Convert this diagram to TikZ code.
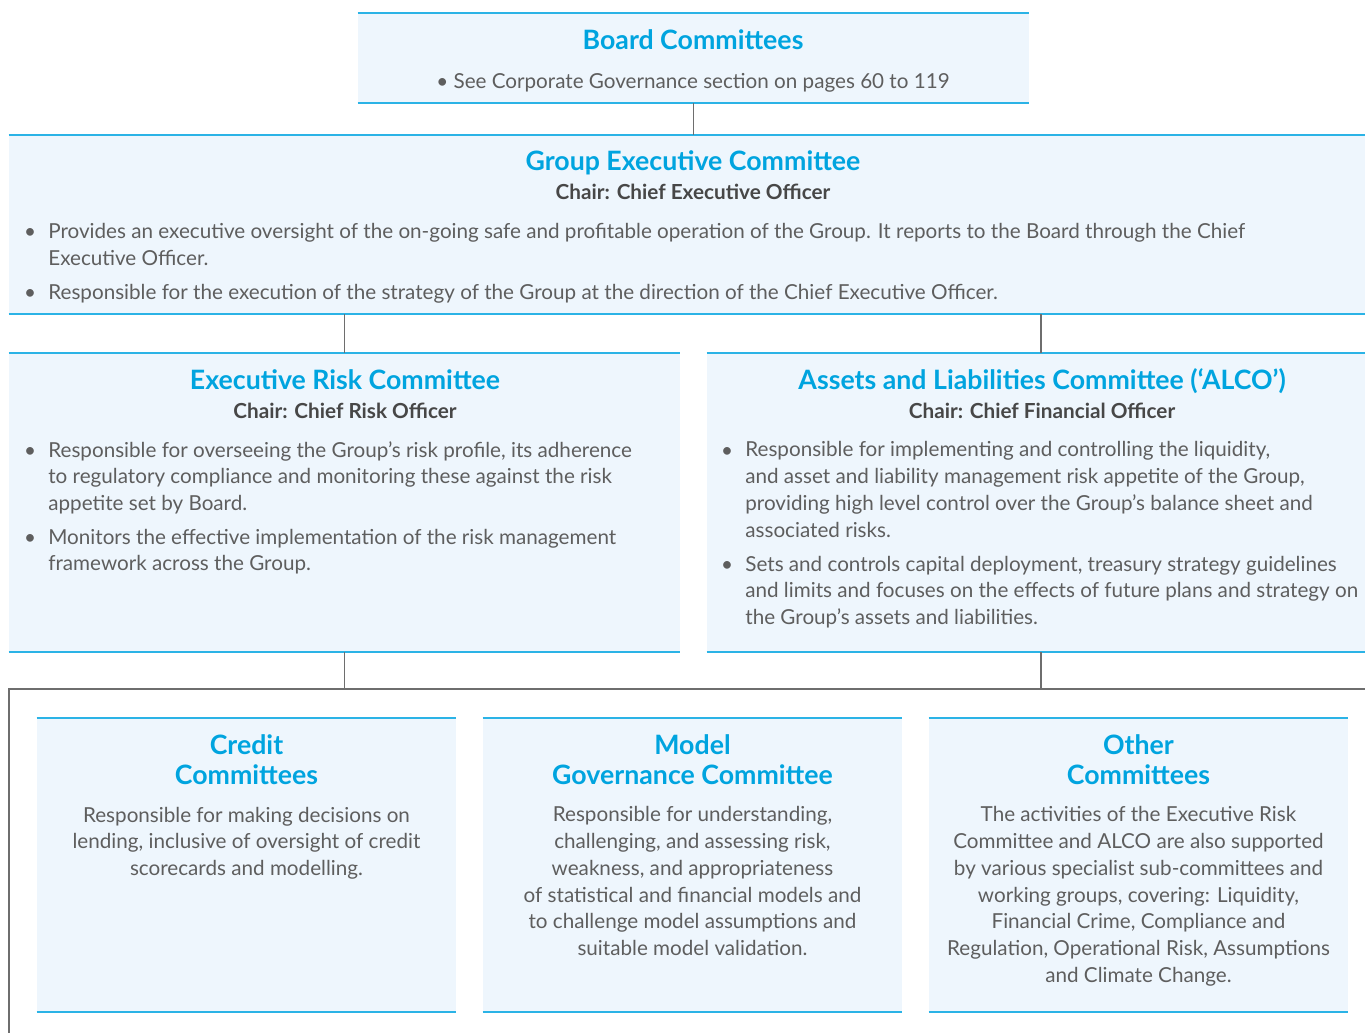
\documentclass[tikz,border=0pt]{standalone}
\usepackage{fontspec}
\setmainfont{Lato}
\usetikzlibrary{fit}

\definecolor{headblue}{HTML}{00A4DF}
\definecolor{rulecyan}{HTML}{2BB3E6}
\definecolor{panelfill}{HTML}{EEF6FD}
\definecolor{bodygrey}{HTML}{5E5E5E}
\definecolor{chairgrey}{HTML}{474747}
\definecolor{linkgrey}{HTML}{6E6E6E}

\tikzset{
    panel/.style={fill=panelfill, draw=none, inner sep=0pt},
    rule/.style={draw=rulecyan, line width=1.1pt},
    link/.style={draw=linkgrey, line width=1pt},
    heading/.style={font=\bfseries\fontsize{15.2}{16.6}\selectfont, text=headblue, anchor=base, align=center, inner sep=0pt},
    chair/.style={font=\bfseries\fontsize{11.8}{13}\selectfont, text=chairgrey, anchor=base, inner sep=0pt},
    body/.style={font=\fontsize{11.75}{15.2}\selectfont, text=bodygrey, anchor=base west, align=left, inner sep=0pt},
    blurb/.style={body, anchor=base, align=center},
    dot/.style={font=\fontsize{11.75}{15.2}\selectfont, text=bodygrey, anchor=base, inner sep=0pt}
}

\begin{document}
\begin{tikzpicture}[x=0.02cm,y=-0.02cm]
        \useasboundingbox (0,0) rectangle (1365,1032);

        % panels
        \node[panel, fit={(358,13) (1029,103)}] (board) {};
        \node[panel, fit={(9,135) (1375,314)}] (gec) {};
        \node[panel, fit={(9,353) (680,652)}] (erc) {};
        \node[panel, fit={(707,353) (1375,652)}] (alco) {};
        \node[panel, fit={(37,718) (456,1012)}] (credit) {};
        \node[panel, fit={(483,718) (902,1012)}] (model) {};
        \node[panel, fit={(929,718) (1348,1012)}] (other) {};

        % top and bottom rules
        \foreach \n in {board,gec,erc,alco,credit,model,other}
            \draw[rule] (\n.north west) -- (\n.north east) (\n.south west) -- (\n.south east);

        % connectors
        \coordinate (frameL) at (9,689);
        \coordinate (frameR) at (1375,689);
        \coordinate (frameB) at (9,1040);
        \draw[link] (board.south) -- (board.south |- gec.north);
        \draw[link] (gec.south -| erc.north) -- (erc.north);
        \draw[link] (gec.south -| alco.north) -- (alco.north);
        \draw[link] (erc.south) -- (erc.south |- frameL);
        \draw[link] (alco.south) -- (alco.south |- frameL);
        \draw[link] (frameR) -- (frameL) -- (frameB);

        % board committees (multi-line texts sit on their last baseline)
        \node[heading] (boardT) at (693,49) {Board Committees};
        \node[blurb] (boardX) at (693,88) {\textbullet\ See Corporate Governance section on pages 60 to 119};

        % group executive committee
        \node[heading] (gecT) at (693,170) {Group Executive Committee};
        \node[chair] (gecC) at (693,199) {Chair: Chief Executive Officer};
        \node[body] (gec1) at (48,265) {Provides an executive oversight of the on-going safe and profitable operation of the Group. It reports to the Board through the Chief\\Executive Officer.};
        \node[body] (gec2) at (48,299) {Responsible for the execution of the strategy of the Group at the direction of the Chief Executive Officer.};

        % executive risk committee
        \node[heading] (ercT) at (345,389) {Executive Risk Committee};
        \node[chair] (ercC) at (345,418) {Chair: Chief Risk Officer};
        \node[body] (erc1) at (48,510.4) {Responsible for overseeing the Group's risk profile, its adherence\\to regulatory compliance and monitoring these against the risk\\appetite set by Board.};
        \node[body] (erc2) at (48,570.7) {Monitors the effective implementation of the risk management\\framework across the Group.};

        % alco
        \node[heading] (alcoT) at (1042,389) {Assets and Liabilities Committee (`ALCO')};
        \node[chair] (alcoC) at (1042,418) {Chair: Chief Financial Officer};
        \node[body] (alco1) at (745,537.1) {Responsible for implementing and controlling the liquidity,\\and asset and liability management risk appetite of the Group,\\providing high level control over the Group's balance sheet and\\associated risks.};
        \node[body] (alco2) at (745,624.4) {Sets and controls capital deployment, treasury strategy guidelines\\and limits and focuses on the effects of future plans and strategy on\\the Group's assets and liabilities.};

        % bullets
        \foreach \bx/\by [count=\k] in {30/238, 30/299, 30/457, 30/544, 727/457, 727/571}
            \node[dot] (dot\k) at (\bx,\by) {\textbullet};

        % sub-committees
        \node[heading] (creditT) at (246.5,784) {Credit\\Committees};
        \node[blurb] (creditX) at (246.5,875.4) {Responsible for making decisions on\\lending, inclusive of oversight of credit\\scorecards and modelling.};
        \node[heading] (modelT) at (692.5,784) {Model\\Governance Committee};
        \node[blurb] (modelX) at (692.5,955.5) {Responsible for understanding,\\challenging, and assessing risk,\\weakness, and appropriateness\\of statistical and financial models and\\to challenge model assumptions and\\suitable model validation.};
        \node[heading] (otherT) at (1138.5,784) {Other\\Committees};
        \node[blurb] (otherX) at (1138.5,982.2) {The activities of the Executive Risk\\Committee and ALCO are also supported\\by various specialist sub-committees and\\working groups, covering: Liquidity,\\Financial Crime, Compliance and\\Regulation, Operational Risk, Assumptions\\and Climate Change.};
    \end{tikzpicture}
\end{document}
